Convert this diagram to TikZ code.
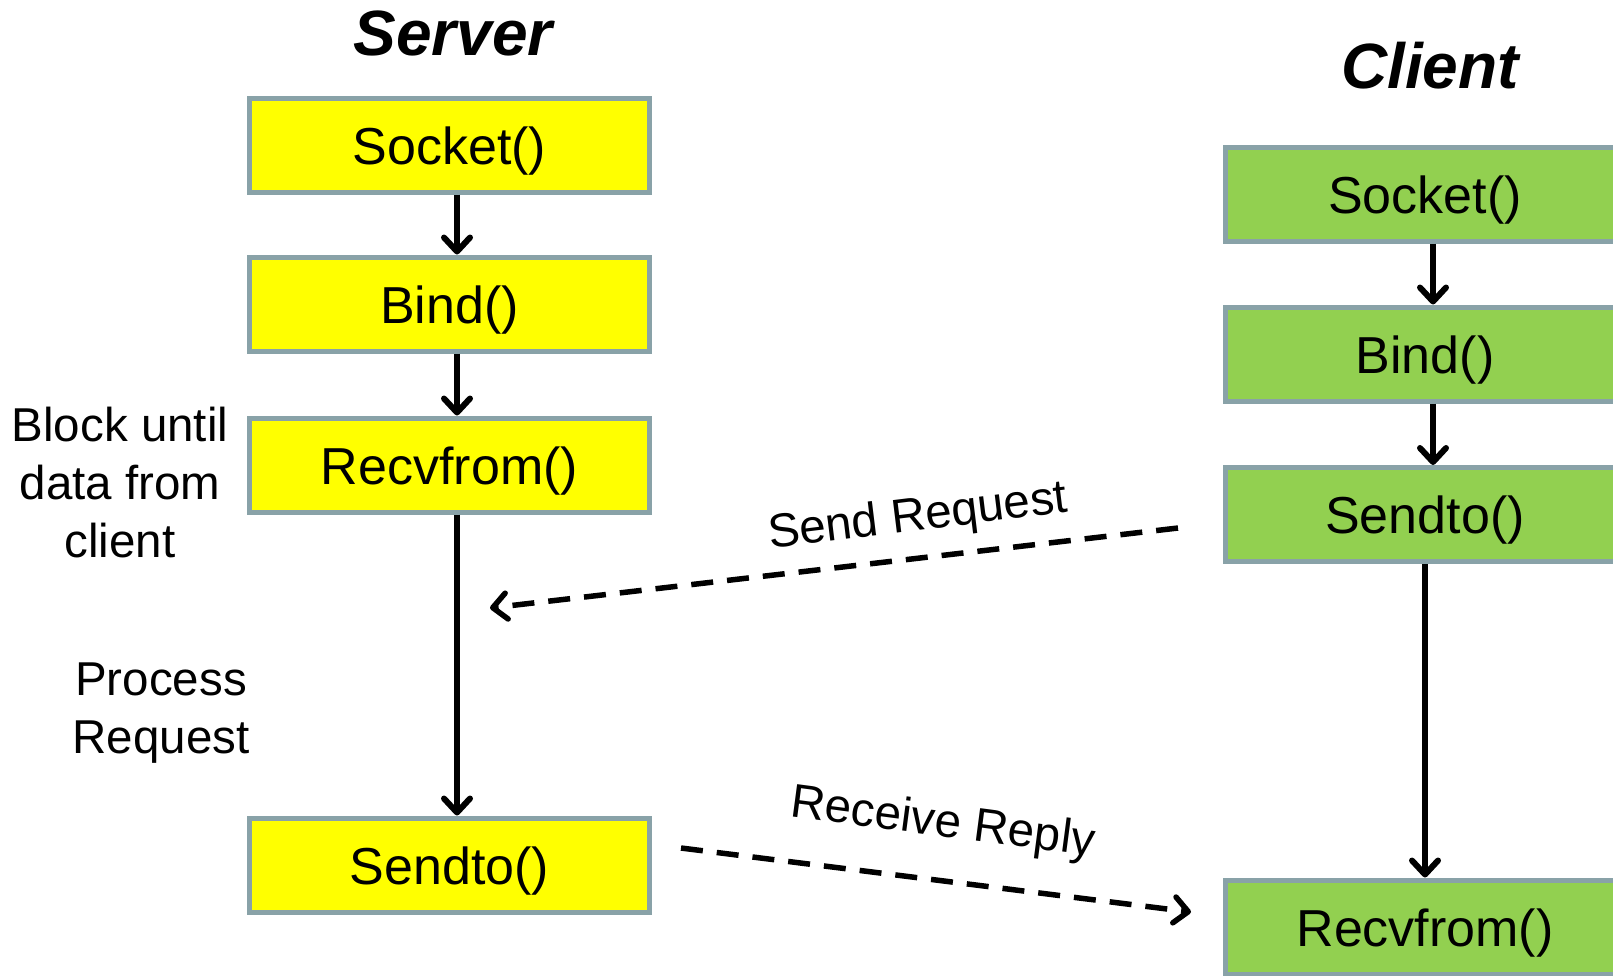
\documentclass[tikz,border=0pt]{standalone}
\usepackage{fontspec}
\setmainfont{Liberation Sans}
\usetikzlibrary{arrows.meta}
\definecolor{boxline}{RGB}{137,162,168}
\definecolor{srvfill}{RGB}{255,255,0}
\definecolor{clifill}{RGB}{146,208,80}
\tikzset{
  callbox/.style={draw=boxline, line width=5pt, minimum width=400pt,
    minimum height=94pt, inner sep=0pt, text height=38pt, text depth=0pt,
    font=\fontsize{52}{60}\selectfont},
  srvbox/.style={callbox, fill=srvfill},
  clibox/.style={callbox, fill=clifill},
  tipbarb/.style={-{Straight Barb[round,length=14pt,width=26pt]}},
  flow/.style={line width=6pt, tipbarb},
  msg/.style={line width=5.5pt, dash pattern=on 22pt off 14pt, tipbarb},
  note/.style={align=center, font=\fontsize{47.5}{58}\selectfont},
  coltitle/.style={font=\fontsize{64}{70}\selectfont\bfseries\itshape}
}
\begin{document}
\begin{tikzpicture}[x=1pt,y=-1pt]
\useasboundingbox (0,0) rectangle (1613,975);
\clip (0,0) rectangle (1613,975);

% column titles
\node[coltitle] (srvtitle) at (453,33) {Server};
\node[coltitle] (clititle) at (1430,66) {Client};

% server calls
\node[srvbox] (ssock) at (449.5,145) {Socket()};
\node[srvbox] (sbind) at (449.5,304) {Bind()};
\node[srvbox] (srecv) at (449.5,465) {Recvfrom()};
\node[srvbox] (ssend) at (449.5,865) {Sendto()};

% client calls
\node[clibox] (csock) at (1425,194) {Socket()};
\node[clibox] (cbind) at (1425,354) {Bind()};
\node[clibox] (csend) at (1425,514.5) {Sendto()};
\node[clibox] (crecv) at (1425,927) {Recvfrom()};

% side notes
\node[note] (blocknote) at (120,483) {Block until\\data from\\client};
\node[note] (procnote) at (161,713) {Process\\Request};

% lines the vertical flow arrows run along
\coordinate (scol) at (457,0);
\coordinate (ccol) at (1433,0);
\coordinate (ccol2) at (1425,0);

\draw[flow] (ssock.south -| scol) -- (sbind.north -| scol);
\draw[flow] (sbind.south -| scol) -- (srecv.north -| scol);
\draw[flow] (srecv.south -| scol) -- (ssend.north -| scol);

\draw[flow] (csock.south -| ccol) -- (cbind.north -| ccol);
\draw[flow] (cbind.south -| ccol) -- (csend.north -| ccol);
\draw[flow] (csend.south -| ccol2) -- (crecv.north -| ccol2);

% messages between the two sides
\coordinate (reqfrom) at (1178,528);
\coordinate (reqto) at (490,608);
\coordinate (repfrom) at (681,848);
\coordinate (repto) at (1191,912);

\draw[msg] (reqfrom) -- (reqto);
\draw[msg] (repfrom) -- (repto);

\node[note, rotate=7] (reqlabel) at (918,518) {Send Request};
\node[note, rotate=-7.5] (replabel) at (943,824) {Receive Reply};
\end{tikzpicture}
\end{document}
